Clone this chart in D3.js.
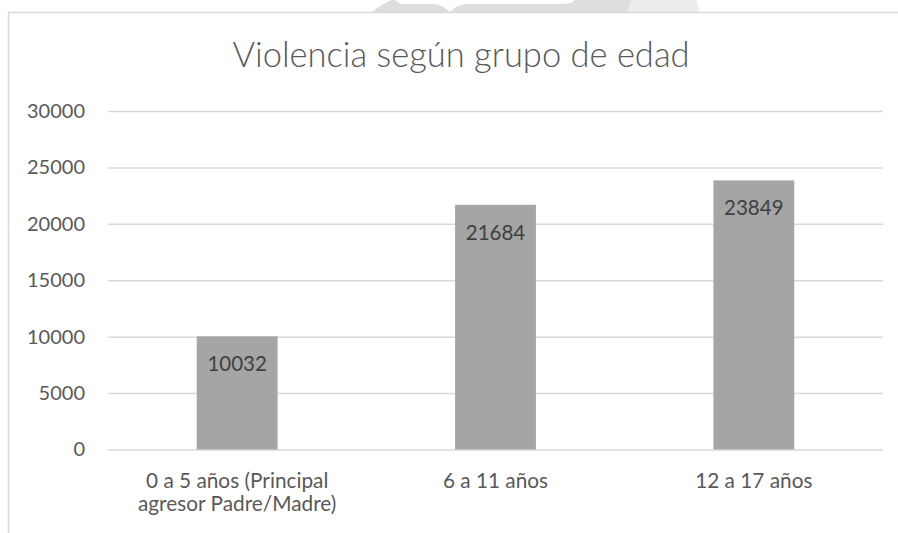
<!DOCTYPE html>
<html>
<head>
<meta charset="utf-8">
<script src="https://cdn.jsdelivr.net/npm/d3@7"></script>
<style>
  html, body { margin: 0; padding: 0; background: #fff; }
  svg { display: block; }
  text { font-family: Lato, "Open Sans", sans-serif; }
</style>
</head>
<body>
<script>
const title = "Violencia según grupo de edad";
const categories = ["0 a 5 años (Principal agresor Padre/Madre)", "6 a 11 años", "12 a 17 años"];
const categoryLines = [["0 a 5 años (Principal", "agresor Padre/Madre)"], ["6 a 11 años"], ["12 a 17 años"]];
const values = [10032, 21684, 23849];
const yTicks = [0, 5000, 10000, 15000, 20000, 25000, 30000];

const W = 898, H = 533;
const svg = d3.select("body").append("svg").attr("width", W).attr("height", H);

// faint watermark remnants at top
const wm = svg.append("g");
wm.append("path")
  .attr("d", "M372,12 C380,6 386,2 392,0 L632,0 L628,12 Z")
  .attr("fill", "#dedede");
wm.append("path")
  .attr("d", "M395,0 L575,0 Q572,4 560,4 L465,4 Q455,6 450,12 Q444,6 435,4 L400,4 Z")
  .attr("fill", "#ffffff");
wm.append("path")
  .attr("d", "M632,0 L696,0 L700,12 L628,12 Z")
  .attr("fill", "#ececec");

// chart frame
svg.append("line").attr("x1", 8.5).attr("x2", 8.5).attr("y1", 12).attr("y2", H)
  .attr("stroke", "#d9d9d9").attr("stroke-width", 1.5);
svg.append("line").attr("x1", 8).attr("x2", W).attr("y1", 12.5).attr("y2", 12.5)
  .attr("stroke", "#d9d9d9").attr("stroke-width", 1.5);

const x = d3.scaleBand().domain(categories).range([108, 883]).paddingInner(0).paddingOuter(0);
const y = d3.scaleLinear().domain([0, 30000]).range([449.5, 111]);
const barW = x.bandwidth() * 0.313;

// title
svg.append("text").attr("x", 461).attr("y", 67).attr("text-anchor", "middle")
  .attr("font-size", 34.5).attr("font-weight", 300).attr("fill", "#595959").text(title);

// gridlines
const yAxis = d3.axisLeft(y).tickValues(yTicks).tickSize(-(883 - 108)).tickFormat(d => d);
const ga = svg.append("g").attr("transform", "translate(108,0)").call(yAxis);
ga.select(".domain").remove();
ga.selectAll(".tick line").attr("stroke", "#d9d9d9").attr("stroke-width", 1.5);
ga.selectAll(".tick text").attr("x", -23).attr("font-size", 20).attr("fill", "#595959")
  .attr("font-family", "Lato, 'Open Sans', sans-serif");

// bars
svg.append("g").selectAll("rect").data(values).join("rect")
  .attr("x", (d, i) => x(categories[i]) + (x.bandwidth() - barW) / 2)
  .attr("width", barW)
  .attr("y", d => y(d))
  .attr("height", d => y(0) - y(d))
  .attr("fill", "#a5a5a5");

// data labels
svg.append("g").selectAll("text").data(values).join("text")
  .attr("x", (d, i) => x(categories[i]) + x.bandwidth() / 2)
  .attr("y", d => y(d) + 35)
  .attr("text-anchor", "middle")
  .attr("font-size", 20.5).attr("fill", "#404040")
  .text(d => d);

// category labels
const cg = svg.append("g");
categoryLines.forEach((lines, i) => {
  lines.forEach((ln, j) => {
    cg.append("text")
      .attr("x", x(categories[i]) + x.bandwidth() / 2)
      .attr("y", 488 + j * 23)
      .attr("text-anchor", "middle")
      .attr("font-size", 20.8).attr("fill", "#595959")
      .text(ln);
  });
});
</script>
</body>
</html>
